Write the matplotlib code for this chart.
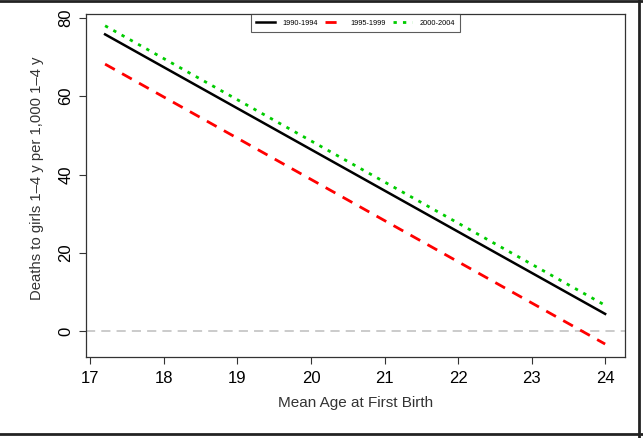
import matplotlib.pyplot as plt
from matplotlib.lines import Line2D

plt.rcParams['font.family'] = ['Liberation Sans', 'DejaVu Sans']

# --- data ---
ages = [17.2, 24.0]
deaths_1990 = [75.8, 4.4]
deaths_1995 = [68.2, -3.3]
deaths_2000 = [78.0, 6.6]
periods = ["1990-1994", "1995-1999", "2000-2004"]

fig = plt.figure(figsize=(6.43, 4.38), dpi=100)
ax = fig.add_axes([0.1337, 0.185, 0.8383, 0.783])

ax.axhline(0, color="#bdbdbd", lw=1.1, ls=(0, (6, 4)), zorder=1)
ax.plot(ages, deaths_1990, color="black", lw=1.8, label=periods[0], zorder=3)
ax.plot(ages, deaths_1995, color="#ff0000", lw=2.0, ls=(0, (4, 3)),
        label=periods[1], zorder=3)
ax.plot(ages, deaths_2000, color="#00cc00", lw=2.0, ls=(0, (1.2, 2.2)),
        label=periods[2], zorder=3)

ax.set_xlim(16.94, 24.27)
ax.set_ylim(-6.6, 81.0)
ax.set_xticks(range(17, 25))
ax.set_yticks([0, 20, 40, 60, 80])
ax.tick_params(axis="both", labelsize=12, length=5, width=0.8,
               color="#333333", labelcolor="black")
ax.tick_params(axis="x", pad=5)
ax.tick_params(axis="y", pad=4)
for lab in ax.get_yticklabels():
    lab.set_rotation(90)
    lab.set_va("center")
for sp in ax.spines.values():
    sp.set_color("#333333")
    sp.set_linewidth(0.9)

ax.set_xlabel("Mean Age at First Birth", fontsize=11, color="#333333",
              labelpad=7)
ax.set_ylabel("Deaths to girls 1\u20134 y per 1,000 1\u20134 y", fontsize=10.7,
              color="#333333")
ax.yaxis.set_label_coords(-0.078, 0.52)

leg = ax.legend(loc="upper center", ncol=3, fontsize=5.3, frameon=True,
                fancybox=False, edgecolor="#333333", borderpad=0.75,
                handlelength=2.5, columnspacing=1.0, handletextpad=1.0,
                borderaxespad=0)
leg.get_frame().set_linewidth(0.8)

# border around the figure (top, right, bottom)
for xs, ys in [([0, 1], [0.998, 0.998]), ([0.9935, 0.9935], [0, 1]),
               ([0, 1], [0.008, 0.008])]:
    fig.add_artist(Line2D(xs, ys, transform=fig.transFigure,
                          color="#222222", lw=2))

fig.savefig("out.png", dpi=100)
